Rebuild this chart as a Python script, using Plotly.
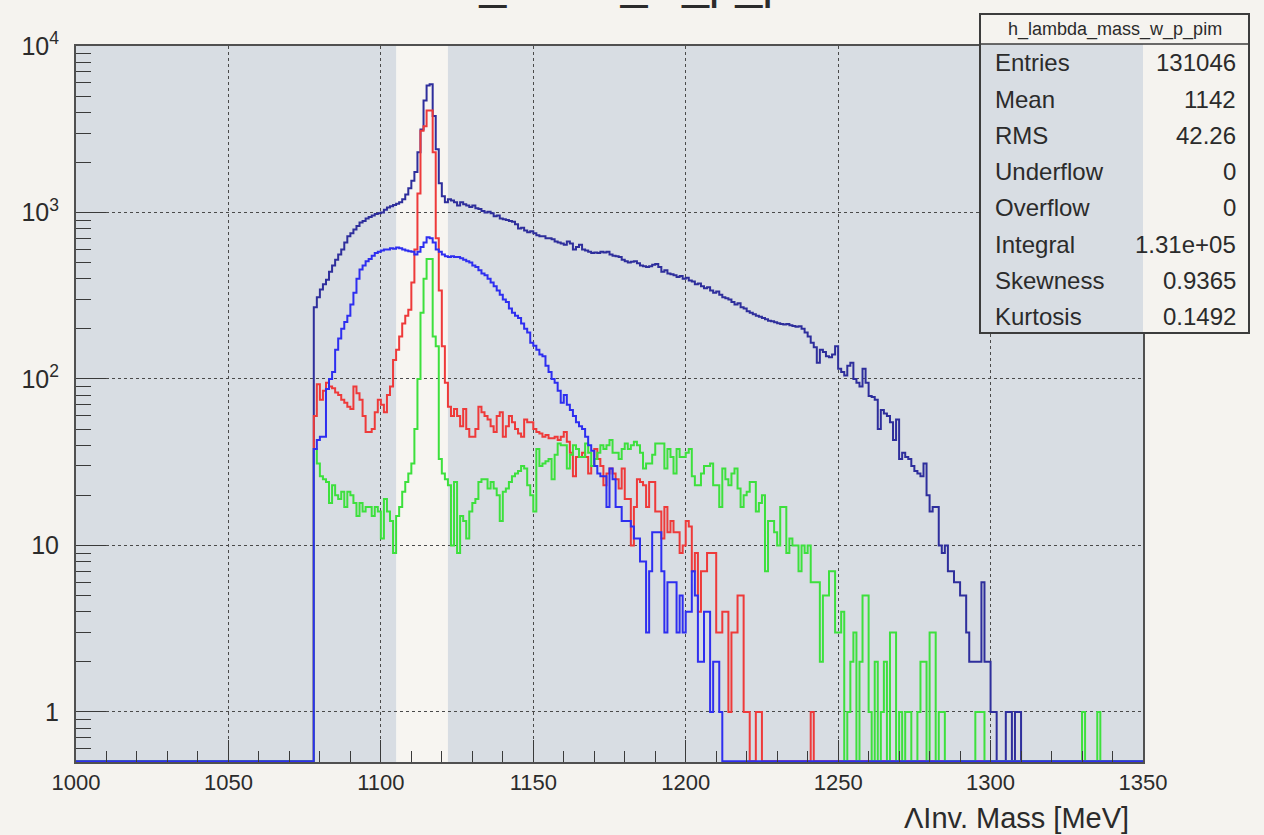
import numpy as np
import plotly.graph_objects as go

# ---------------------------------------------------------------- data
# Lambda invariant-mass spectra, 1 MeV bins, counts listed from FIRST_BIN on.
FIRST_BIN = 1078
BIN_WIDTH = 1.0
X_MIN, X_MAX = 1000, 1350

# all p pi- pairs (h_lambda_mass_w_p_pim)
total_counts = [
    270, 310, 345, 370, 395, 440, 480, 520, 560, 600,
    660, 720, 750, 790, 830, 870, 890, 920, 940, 960,
    980, 990, 1000, 1040, 1070, 1090, 1110, 1130, 1150, 1200,
    1280, 1400, 1550, 1750, 2300, 3150, 4700, 5800, 5900, 3800,
    2400, 1500, 1250, 1150, 1200, 1180, 1150, 1100, 1150, 1120,
    1100, 1080, 1100, 1060, 1050, 1020, 1000, 1010, 990, 950,
    960, 920, 910, 900, 890, 880, 850, 800, 810, 780,
    760, 770, 750, 730, 720, 720, 700, 700, 690, 670,
    660, 650, 640, 670, 650, 600, 620, 640, 600, 590,
    580, 570, 575, 570, 580, 575, 580, 560, 550, 545,
    540, 520, 510, 500, 505, 510, 495, 480, 475, 470,
    475, 485, 490, 470, 440, 450, 430, 425, 420, 410,
    415, 400, 405, 390, 385, 370, 375, 360, 350, 355,
    340, 330, 335, 320, 310, 305, 300, 290, 280, 285,
    270, 265, 255, 250, 245, 240, 236, 232, 228, 224,
    222, 219, 216, 214, 212, 214, 210, 208, 206, 207,
    200, 190, 180, 165, 155, 125, 150, 145, 137, 135,
    140, 157, 115, 110, 105, 120, 125, 100, 95, 90,
    115, 95, 79, 78, 75, 50, 65, 62, 60, 55,
    43, 57, 33, 36, 34, 33, 30, 28, 27, 26,
    31, 20, 16, 17, 17, 10, 9, 10, 7, 7,
    6, 6, 5, 5, 3, 2, 2, 2, 2, 6,
    2, 2, 1, 1, 0, 0, 0, 1, 1, 0,
    1, 1, 0,
]

# blue component
blue_counts = [
    38, 43, 45, 45, 87, 100, 110, 150, 175, 200,
    220, 240, 280, 330, 400, 455, 480, 510, 525, 550,
    570, 580, 590, 600, 600, 610, 605, 615, 610, 600,
    590, 585, 580, 560, 580, 620, 660, 710, 700, 660,
    600, 580, 560, 545, 540, 545, 540, 540, 530, 520,
    510, 500, 480, 470, 450, 430, 420, 400, 380, 360,
    340, 320, 300, 290, 265, 250, 240, 232, 215, 200,
    190, 165, 158, 150, 140, 137, 120, 110, 100, 95,
    85, 72, 80, 70, 65, 60, 55, 52, 50, 45,
    40, 37, 30, 27, 26, 26, 17, 29, 25, 17,
    17, 14, 14, 14, 13, 11, 11, 8, 8, 3,
    7, 12, 12, 12, 7, 3, 6, 6, 6, 3,
    5, 3, 4, 4, 7, 5, 2, 2, 4, 4,
    1, 2, 2, 1, 0,
]

# red component
red_counts = [
    60, 93, 75, 85, 95, 90, 88, 83, 80, 75,
    72, 68, 66, 90, 82, 75, 60, 48, 48, 50,
    63, 75, 70, 63, 80, 90, 130, 150, 180, 215,
    240, 260, 380, 600, 1300, 3100, 3300, 4100, 4100, 2300,
    700, 340, 157, 95, 68, 60, 66, 60, 52, 66,
    50, 45, 45, 50, 68, 63, 60, 57, 52, 48,
    60, 63, 45, 52, 60, 55, 50, 47, 45, 57,
    55, 55, 50, 48, 47, 45, 46, 44, 44, 45,
    43, 45, 48, 42, 36, 26, 34, 34, 36, 34,
    27, 30, 38, 33, 30, 23, 27, 29, 27, 25,
    22, 29, 19, 19, 10, 17, 25, 24, 23, 17,
    24, 24, 16, 16, 11, 17, 12, 14, 12, 12,
    9, 10, 14, 13, 7, 9, 4, 7, 7, 9,
    9, 9, 3, 3, 4, 4, 1, 3, 3, 5,
    5, 1, 1, 0, 0, 1, 1, 0, 0, 0,
    0, 0, 0, 0, 0, 0, 0, 0, 0, 0,
    0, 0, 0, 1,
]

# green component
green_counts = [
    38, 31, 26, 25, 24, 18, 23, 20, 19, 21,
    17, 21, 20, 18, 15, 18, 16, 17, 17, 15,
    17, 16, 11, 19, 16, 14, 9, 15, 17, 21,
    24, 27, 31, 50, 100, 250, 400, 525, 525, 180,
    157, 33, 27, 25, 23, 10, 24, 9, 15, 14,
    11, 16, 18, 19, 24, 25, 25, 22, 24, 22,
    20, 14, 21, 22, 24, 26, 27, 28, 30, 29,
    23, 20, 16, 38, 30, 31, 32, 33, 25, 35,
    41, 40, 40, 29, 35, 40, 38, 34, 34, 41,
    36, 30, 33, 36, 40, 38, 40, 43, 36, 36,
    33, 38, 41, 38, 40, 42, 40, 36, 29, 31,
    31, 35, 41, 41, 41, 29, 38, 34, 27, 38,
    34, 34, 36, 38, 26, 23, 23, 27, 30, 30,
    31, 23, 23, 17, 29, 25, 23, 27, 29, 22,
    17, 20, 21, 24, 24, 16, 18, 20, 7, 14,
    14, 12, 10, 17, 17, 9, 11, 10, 10, 7,
    10, 9, 10, 6, 6, 6, 2, 5, 5, 7,
    7, 3, 3, 4, 0, 1, 2, 3, 0, 2,
    5, 5, 1, 0, 2, 0, 1, 2, 0, 3,
    3, 0, 1, 0, 1, 1, 0, 0, 1, 2,
    2, 0, 3, 3, 0, 1, 1, 0, 0, 0,
    0, 0, 0, 0, 0, 0, 0, 1, 1, 1,
    0, 0, 0, 0, 0, 0, 0, 0, 0, 0,
    0, 0, 0, 0, 0, 0, 0, 0, 0, 0,
    0, 0, 0, 0, 0, 0, 0, 0, 0, 0,
    0, 0, 1, 0, 0, 0, 0, 1,
]

X_TICKS = [1000, 1050, 1100, 1150, 1200, 1250, 1300, 1350]
Y_TICKS = [1, 10, 100, 1000, 10000]
Y_TICK_TEXT = ["1", "10", "10<sup>2</sup>", "10<sup>3</sup>", "10<sup>4</sup>"]
Y_MIN, Y_MAX = 0.5, 1.0e4

SIGNAL_WINDOW = (1105, 1122)

STATS_NAME = "h_lambda_mass_w_p_pim"
STATS_LABELS = ["Entries", "Mean", "RMS", "Underflow", "Overflow",
                "Integral", "Skewness", "Kurtosis"]
STATS_VALUES = ["131046", "1142", "42.26", "0", "0",
                "1.31e+05", "0.9365", "0.1492"]

TITLE = "lambda_mass_w_p_pim"
X_TITLE = "\u039bInv. Mass [MeV]"

# ---------------------------------------------------------------- style
FONT = "Liberation Sans, Arial, Helvetica, sans-serif"
PAPER = "#f5f3ef"
FRAME_FILL = "#d8dde3"
WINDOW_FILL = "#f7f5f1"
AXIS_COL = "#505050"
TEXT_COL = "#2b2b2b"

W, H = 1264, 835
M_L, M_R, M_T, M_B = 76, 121, 46, 73
PLOT_W = W - M_L - M_R
PLOT_H = H - M_T - M_B


def px(x):
    """Horizontal page pixel -> paper coordinate."""
    return (x - M_L) / PLOT_W


def py(y):
    """Vertical page pixel (from top) -> paper coordinate."""
    return (H - M_B - y) / PLOT_H


# ---------------------------------------------------------------- histograms
n_bins = int(round((X_MAX - X_MIN) / BIN_WIDTH))
edges = X_MIN + BIN_WIDTH * np.arange(n_bins + 1)
first = int(round((FIRST_BIN - X_MIN) / BIN_WIDTH))
# empty bins sit on the lower edge of the log frame, as ROOT draws them
y_floor = Y_MIN * 1.012


def step_xy(counts):
    full = np.zeros(n_bins)
    full[first:first + len(counts)] = counts
    y = np.where(full > 0, full, y_floor)
    return edges, np.append(y, y[-1])


series = [
    ("total", total_counts, "#2e2e9c"),
    ("red", red_counts, "#ee3a3a"),
    ("green", green_counts, "#3de03d"),
    ("blue", blue_counts, "#2e2ef0"),
]

fig = go.Figure()
for name, counts, colour in series:
    x, y = step_xy(counts)
    fig.add_trace(go.Scatter(
        x=x, y=y, mode="lines", name=name,
        line=dict(color=colour, width=2, shape="hv"),
        hoverinfo="skip", showlegend=False,
    ))

# ---------------------------------------------------------------- shapes
shapes = [
    # Lambda signal window
    dict(type="rect", xref="x", yref="paper",
         x0=SIGNAL_WINDOW[0], x1=SIGNAL_WINDOW[1], y0=0, y1=1,
         fillcolor=WINDOW_FILL, line=dict(width=0), layer="below"),
]

# statistics box
box_l, box_r, box_t, box_sep, box_b = 980, 1249, 14, 44, 333
frame_r = M_L + PLOT_W
shapes += [
    dict(type="rect", xref="paper", yref="paper",
         x0=px(box_l), x1=px(frame_r), y0=py(box_b), y1=py(box_sep),
         fillcolor=FRAME_FILL, line=dict(width=0), layer="above"),
    dict(type="rect", xref="paper", yref="paper",
         x0=px(frame_r), x1=px(box_r), y0=py(box_b), y1=py(box_sep),
         fillcolor=PAPER, line=dict(width=0), layer="above"),
    dict(type="rect", xref="paper", yref="paper",
         x0=px(box_l), x1=px(box_r), y0=py(box_sep), y1=py(box_t),
         fillcolor=PAPER, line=dict(color="#3c3c3c", width=1.5), layer="above"),
    dict(type="rect", xref="paper", yref="paper",
         x0=px(box_l), x1=px(box_r), y0=py(box_b), y1=py(box_t),
         fillcolor="rgba(0,0,0,0)", line=dict(color="#3c3c3c", width=2),
         layer="above"),
]

annotations = [
    dict(text=STATS_NAME, xref="paper", yref="paper",
         x=px((box_l + box_r) / 2), y=py((box_t + box_sep) / 2),
         xanchor="center", yanchor="middle", showarrow=False,
         font=dict(family=FONT, size=18, color=TEXT_COL)),
    dict(text=X_TITLE, xref="paper", yref="paper",
         x=px(1131), y=py(818), xanchor="right", yanchor="middle",
         showarrow=False, font=dict(family=FONT, size=29, color=TEXT_COL)),
    dict(text=TITLE, xref="paper", yref="paper",
         x=px(581), y=py(10), xanchor="center", yanchor="bottom",
         showarrow=False, font=dict(family=FONT, size=48, color=TEXT_COL)),
]
row_y0, row_dy = 63, 36.2
for i, (lab, val) in enumerate(zip(STATS_LABELS, STATS_VALUES)):
    yy = py(row_y0 + i * row_dy)
    annotations.append(dict(text=lab, xref="paper", yref="paper",
                            x=px(993), y=yy, xanchor="left", yanchor="middle",
                            showarrow=False,
                            font=dict(family=FONT, size=24, color=TEXT_COL)))
    annotations.append(dict(text=val, xref="paper", yref="paper",
                            x=px(1238), y=yy, xanchor="right", yanchor="middle",
                            showarrow=False,
                            font=dict(family=FONT, size=24, color=TEXT_COL)))

# ---------------------------------------------------------------- axes
y_minor = [k * 10.0 ** e for e in range(-1, 4) for k in range(2, 10)
           if Y_MIN < k * 10.0 ** e < Y_MAX]

fig.update_layout(
    width=W, height=H, autosize=False,
    margin=dict(l=M_L, r=M_R, t=M_T, b=M_B, pad=0),
    paper_bgcolor=PAPER, plot_bgcolor=FRAME_FILL,
    font=dict(family=FONT, size=22, color=TEXT_COL),
    shapes=shapes, annotations=annotations,
    xaxis=dict(
        range=[X_MIN, X_MAX], tickmode="array", tickvals=X_TICKS,
        ticks="inside", ticklen=22, tickwidth=1.4, tickcolor="#3a3a3a",
        ticklabelstandoff=0,
        tickfont=dict(family=FONT, size=22, color=TEXT_COL),
        showline=True, linecolor=AXIS_COL, linewidth=2, mirror=True,
        showgrid=True, gridcolor="#4a4a4a", gridwidth=1.2, griddash="dot",
        zeroline=False,
        minor=dict(tickmode="linear", tick0=X_MIN, dtick=10, ticks="inside",
                   ticklen=11, tickwidth=1.2, tickcolor="#3a3a3a",
                   showgrid=False),
    ),
    yaxis=dict(
        type="log", range=[np.log10(Y_MIN), np.log10(Y_MAX)],
        tickmode="array", tickvals=Y_TICKS, ticktext=Y_TICK_TEXT,
        ticks="inside", ticklen=30, tickwidth=1.4, tickcolor="#3a3a3a",
        ticklabelstandoff=10,
        tickfont=dict(family=FONT, size=25, color=TEXT_COL),
        showline=True, linecolor=AXIS_COL, linewidth=2, mirror=True,
        showgrid=True, gridcolor="#4a4a4a", gridwidth=1.2, griddash="dot",
        zeroline=False,
        minor=dict(tickmode="array", tickvals=y_minor, ticks="inside",
                   ticklen=15, tickwidth=1.2, tickcolor="#3a3a3a",
                   showgrid=False),
    ),
)

fig.write_html("out.html")
